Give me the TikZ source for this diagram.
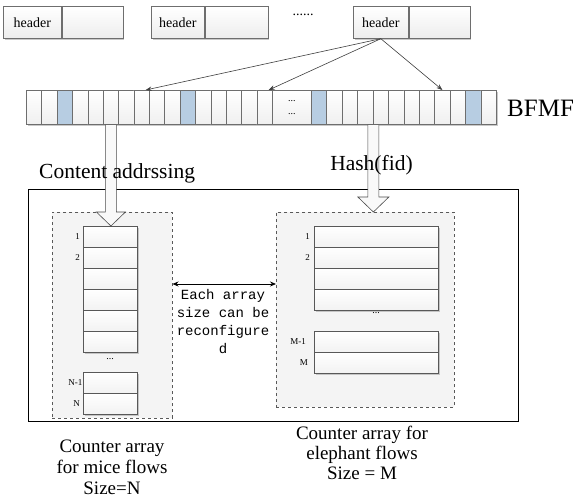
\documentclass[tikz,border=0pt]{standalone}
\usepackage{fontspec}
\setmainfont{Liberation Serif}
\setmonofont{Liberation Mono}
\usetikzlibrary{calc,shadows,arrows.meta}
\definecolor{cellblue}{HTML}{B7CDE2}
\definecolor{edge}{HTML}{6E6E6E}
\begin{document}
\begin{tikzpicture}[x=1pt,y=-1pt,
  shade/.style={drop shadow={shadow xshift=1.3pt,shadow yshift=-1.3pt,fill=gray!70,opacity=0.6}},
  hcell/.style={draw=edge,line width=0.7pt,top color=white,bottom color=gray!14,
    minimum height=32pt,anchor=north west,inner sep=0pt,shade,
    font=\fontsize{14}{16}\selectfont},
  barcell/.style={draw=edge,line width=0.7pt,top color=\ctop,bottom color=\cbot,
    minimum height=34pt,anchor=north west,inner sep=0pt,shade},
  acell/.style={draw=edge!80!black,line width=0.7pt,top color=white,bottom color=gray!10,
    minimum height=21pt,anchor=north west,inner sep=0pt,shade},
  panel/.style={draw=gray!70!black,dashed,line width=0.5pt,fill=gray!9,anchor=north west,inner sep=0pt},
  lab/.style={font=\fontsize{9}{10}\selectfont,inner sep=0pt,anchor=east},
  thinarrow/.style={draw=black!75,line width=0.6pt,-{Stealth[length=6pt,width=4.5pt]}},
  bigarrow/.style={draw=gray!60!black,line width=0.6pt,fill=gray!5},
  title/.style={font=\fontsize{21.5}{23}\selectfont,inner sep=0pt},
  caption/.style={align=center,inner sep=0pt},
  monotext/.style={align=center,inner sep=0pt,font=\ttfamily\fontsize{14}{18}\selectfont}
]
\useasboundingbox (0,0) rectangle (573,497);
\fill[white] (0,0) rectangle (573,497);

% header boxes
\node[hcell,minimum width=58pt] (h1a) at (3,6) {header};
\node[hcell,minimum width=61pt] (h1b) at (h1a.north east) {};
\node[hcell,minimum width=53pt] (h2a) at (151,6) {header};
\node[hcell,minimum width=63pt] (h2b) at (h2a.north east) {};
\node[hcell,minimum width=55pt] (h3a) at (353,6) {header};
\node[hcell,minimum width=61pt] (h3b) at (h3a.north east) {};
\node[font=\fontsize{14}{16}\selectfont,inner sep=0pt] (hdots) at (303,15) {......};

% BFMF bar
\foreach \i in {0,...,15}{
  \ifnum\i=2 \def\ctop{cellblue}\def\cbot{cellblue}\else
  \ifnum\i=10 \def\ctop{cellblue}\def\cbot{cellblue}\else
  \def\ctop{white}\def\cbot{gray!12}\fi\fi
  \pgfmathsetmacro\xx{26+15.375*\i}
  \node[barcell,minimum width=15.375pt] (c\i) at (\xx,90) {};
}
\def\ctop{white}\def\cbot{gray!12}
\node[barcell,minimum width=39pt,align=center,font=\fontsize{10}{12}\selectfont] (cd) at (272,90) {...\\[1pt]...};
\foreach \i in {0,...,11}{
  \ifnum\i=0 \def\ctop{cellblue}\def\cbot{cellblue}\else
  \ifnum\i=10 \def\ctop{cellblue}\def\cbot{cellblue}\else
  \def\ctop{white}\def\cbot{gray!12}\fi\fi
  \pgfmathsetmacro\xx{311+15.417*\i}
  \node[barcell,minimum width=15.417pt] (r\i) at (\xx,90) {};
}
\node[font=\fontsize{25}{27}\selectfont,inner sep=0pt,anchor=west] (bfmf) at (507,108) {BFMF};

% arrows from header
\draw[thinarrow] (h3a.south) -- ([xshift=-4pt]c7.north east);
\draw[thinarrow] (h3a.south) -- ([xshift=-4pt]c15.north east);
\draw[thinarrow] (h3a.south) -- (r8.north);

% outer box and panels
\node[draw=black,line width=0.7pt,anchor=north west,minimum width=490pt,minimum height=232pt,inner sep=0pt] (ob) at (28,189) {};
\node[panel,minimum width=120pt,minimum height=206pt] (lp) at (52,212) {};
\node[panel,minimum width=178pt,minimum height=195pt] (rp) at (276,212) {};

% left array
\foreach \i in {1,...,6}{
  \pgfmathsetmacro\yy{226+21*(\i-1)}
  \node[acell,minimum width=54pt] (L\i) at (83,\yy) {};
}
\node[font=\fontsize{10}{12}\selectfont,inner sep=0pt] (ldots) at (110,359) {...};
\node[acell,minimum width=54pt] (LN1) at (83,372) {};
\node[acell,minimum width=54pt] (LN) at (83,393) {};
\node[lab] at ([xshift=-3pt]L1.west) {1};
\node[lab] at ([xshift=-3pt]L2.west) {2};
\node[lab] at ([xshift=-0.5pt]LN1.west) {N-1};
\node[lab] at ([xshift=-3pt]LN.west) {N};

% right array
\foreach \i in {1,...,4}{
  \pgfmathsetmacro\yy{226+21*(\i-1)}
  \node[acell,minimum width=124pt] (R\i) at (314,\yy) {};
}
\node[font=\fontsize{10}{12}\selectfont,inner sep=0pt] (rdots) at (376,313) {...};
\node[acell,minimum width=124pt] (RM1) at (314,331) {};
\node[acell,minimum width=124pt] (RM) at (314,352) {};
\node[lab] at ([xshift=-4pt]R1.west) {1};
\node[lab] at ([xshift=-4pt]R2.west) {2};
\node[lab] at ([xshift=-8pt]RM1.west) {M-1};
\node[lab] at ([xshift=-6pt]RM.west) {M};

% big hollow arrows
\coordinate (A1) at (c5.south);
\coordinate (A1t) at (A1 |- L1.north);
\draw[bigarrow] ($(A1)+(-5.5,0)$) -- ($(A1t)+(-5.5,-14)$) -- ($(A1t)+(-14.5,-14)$) -- (A1t)
  -- ($(A1t)+(14.5,-14)$) -- ($(A1t)+(5.5,-14)$) -- ($(A1)+(5.5,0)$) -- cycle;
\coordinate (A2) at (r3.south east);
\coordinate (A2t) at (A2 |- rp.north);
\draw[bigarrow] ($(A2)+(-5.5,0)$) -- ($(A2t)+(-5.5,-15)$) -- ($(A2t)+(-15.5,-15)$) -- (A2t)
  -- ($(A2t)+(15.5,-15)$) -- ($(A2t)+(5.5,-15)$) -- ($(A2)+(5.5,0)$) -- cycle;

% titles
\node[title,anchor=west] (ca) at (39,173) {Content addrssing};
\node[title] (hf) at (371.5,165) {Hash(fid)};

% double arrow and note
\coordinate (dy) at (0,284);
\draw[black,line width=0.8pt,{Stealth[length=6pt,width=5pt]}-{Stealth[length=6pt,width=5pt]}] (lp.east |- dy) -- (rp.west |- dy);
\node[monotext,anchor=north] (note) at (223,289) {Each array\\size can be\\reconfigure\\d};

% captions
\node[caption,font=\fontsize{19}{21}\selectfont] (capL) at (112,467) {Counter array\\for mice flows\\Size=N};
\node[caption,font=\fontsize{19}{20}\selectfont] (capR) at (362,453) {Counter array for\\elephant flows\\Size = M};
\end{tikzpicture}
\end{document}
